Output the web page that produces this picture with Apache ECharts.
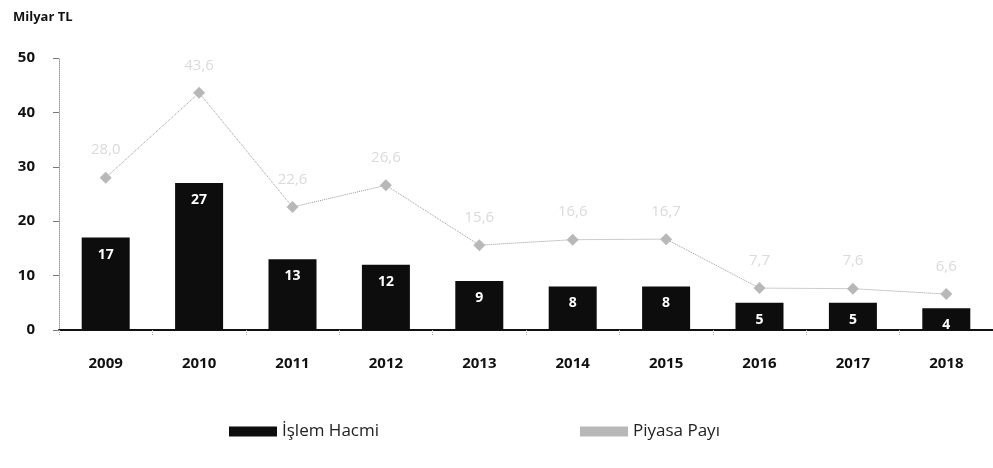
<!DOCTYPE html>
<html lang="tr">
<head>
    <meta charset="utf-8">
    <title>İşlem Hacmi ve Piyasa Payı</title>
    <script src="https://cdn.jsdelivr.net/npm/echarts@6/dist/echarts.min.js"></script>
    <style type="text/css">
        html, body {
            width: 100%;
            height: 100%;
            margin: 0px;
            padding: 0px;
            background: #fff;
        }

        #main {
            width: 993px;
            height: 468px;
        }
    </style>
</head>
<body>
<div id="main"></div>
<script>
    // yıllar
    var years = ['2009', '2010', '2011', '2012', '2013', '2014', '2015', '2016', '2017', '2018'];
    // işlem hacmi (milyar TL)
    var islemHacmi = [17, 27, 13, 12, 9, 8, 8, 5, 5, 4];
    // piyasa payı
    var piyasaPayi = [28.0, 43.6, 22.6, 26.6, 15.6, 16.6, 16.7, 7.7, 7.6, 6.6];
    var yTicks = [0, 10, 20, 30, 40, 50];

    var myChart = echarts.init(document.getElementById('main'));

    var font = '"Open Sans", "Noto Sans", sans-serif';

    var option = {
        backgroundColor: '#fff',
        animation: false,
        title: {
            text: 'Milyar TL',
            left: 8,
            top: 6,
            textStyle: {
                fontFamily: font,
                fontSize: 13,
                fontWeight: 'bold',
                color: '#111'
            }
        },
        legend: [{
            data: ['İşlem Hacmi'],
            left: 224,
            top: 418,
            icon: 'rect',
            itemWidth: 48,
            itemHeight: 10,
            itemGap: 12,
            textStyle: {fontFamily: font, fontSize: 17, color: '#222'}
        }, {
            data: ['Piyasa Payı'],
            left: 575,
            top: 418,
            icon: 'rect',
            itemWidth: 48,
            itemHeight: 10,
            textStyle: {fontFamily: font, fontSize: 17, color: '#222'}
        }],
        grid: {
            left: 59,
            right: 0,
            top: 58,
            bottom: 138
        },
        xAxis: {
            type: 'category',
            data: years,
            axisLine: {lineStyle: {color: '#111', width: 2}},
            axisTick: {show: true, length: 5, lineStyle: {color: '#aaa', type: 'dotted'}},
            axisLabel: {
                margin: 26,
                fontFamily: font,
                fontSize: 15,
                fontWeight: 'bold',
                color: '#111'
            }
        },
        yAxis: {
            type: 'value',
            min: yTicks[0],
            max: yTicks[yTicks.length - 1],
            interval: 10,
            splitLine: {show: false},
            axisLine: {show: true, lineStyle: {color: '#999', type: 'dotted'}},
            axisTick: {show: true, length: 6, lineStyle: {color: '#777'}},
            axisLabel: {
                margin: 24,
                fontFamily: font,
                fontSize: 15,
                fontWeight: 'bold',
                color: '#111'
            }
        },
        series: [{
            name: 'İşlem Hacmi',
            type: 'bar',
            data: islemHacmi,
            barWidth: 48,
            itemStyle: {color: '#0d0d0d'},
            label: {
                show: true,
                position: 'insideTop',
                distance: 10,
                fontFamily: font,
                fontSize: 14,
                fontWeight: 'bold',
                color: '#fff'
            }
        }, {
            name: 'Piyasa Payı',
            type: 'line',
            data: piyasaPayi,
            symbol: 'diamond',
            symbolSize: 12,
            itemStyle: {color: '#b8b8b8'},
            lineStyle: {color: '#999', width: 1, type: 'dotted'},
            label: {
                show: true,
                position: 'top',
                distance: 14,
                fontFamily: font,
                fontSize: 15,
                color: '#dadada',
                formatter: function (p) {
                    return p.value.toFixed(1).replace('.', ',');
                }
            },
            z: 3
        }]
    };

    myChart.setOption(option);
</script>
</body>
</html>
